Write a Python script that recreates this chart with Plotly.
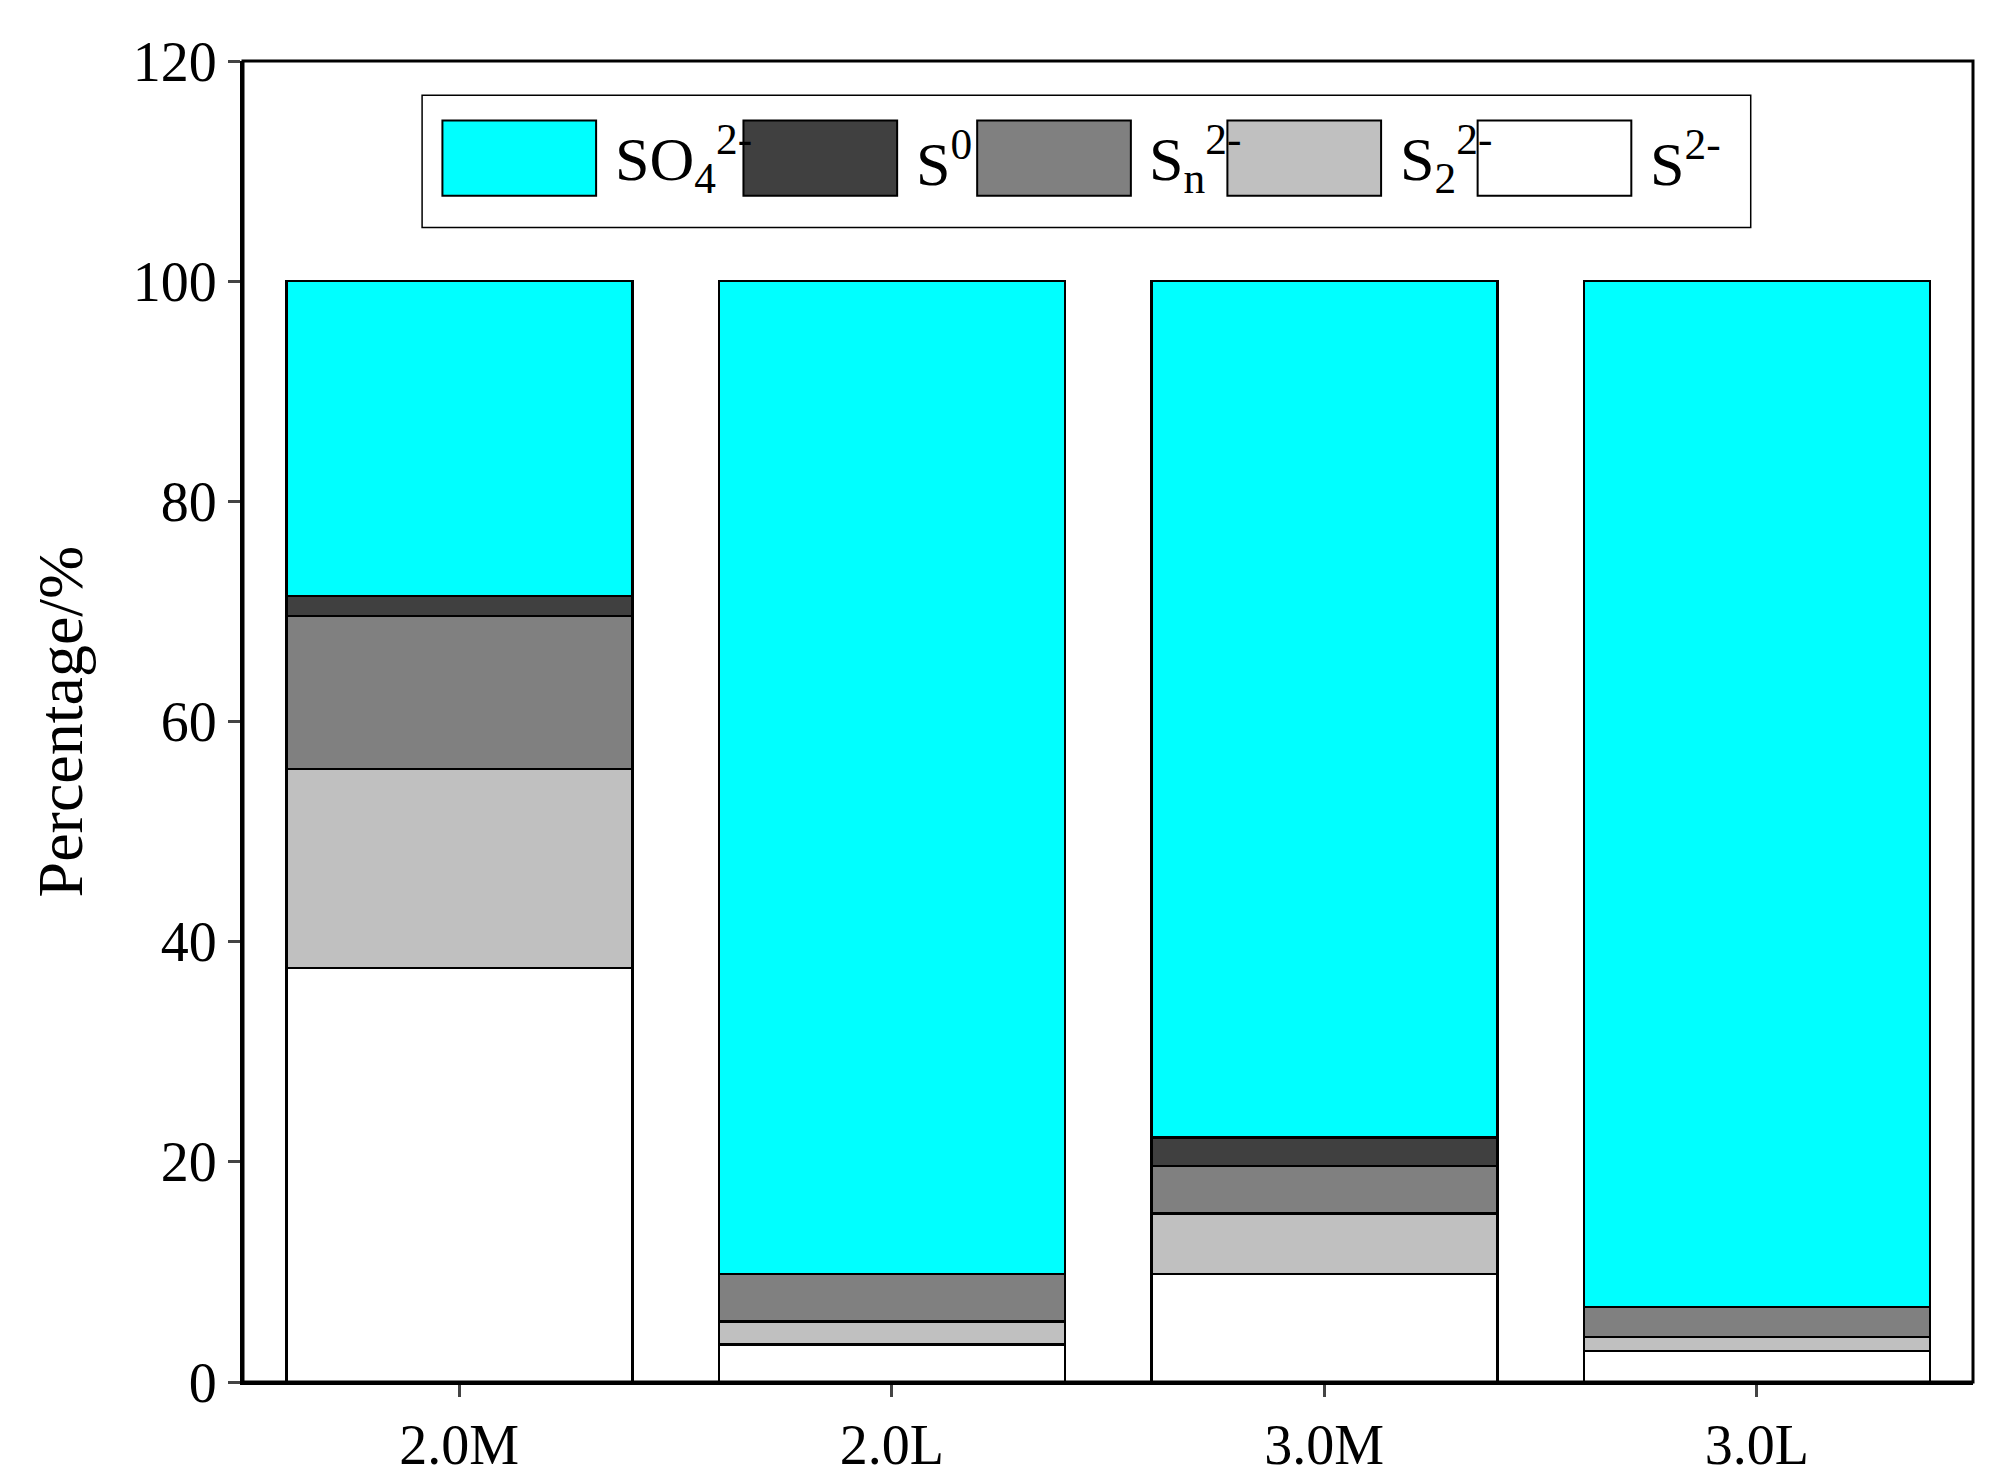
import plotly.graph_objects as go

categories = ["2.0M", "2.0L", "3.0M", "3.0L"]
s2 = [37.6, 3.4, 9.8, 2.8]
s2_2 = [18.1, 2.1, 5.5, 1.3]
sn = [13.9, 4.3, 4.3, 2.7]
s0 = [1.8, 0.0, 2.6, 0.0]
so4 = [28.6, 90.2, 77.8, 93.2]

series = [
    ("S<sup>2-</sup>", s2, "#FFFFFF"),
    ("S<sub>2</sub><sup>2-</sup>", s2_2, "#C0C0C0"),
    ("S<sub>n</sub><sup>2-</sup>", sn, "#808080"),
    ("S<sup>0</sup>", s0, "#404040"),
    ("SO<sub>4</sub><sup>2-</sup>", so4, "#00FFFF"),
]

FONT = "Liberation Serif, Times New Roman, serif"

fig = go.Figure()
for name, vals, color in series:
    fig.add_trace(go.Bar(x=categories, y=vals, name=name, width=0.8,
                         marker=dict(color=color, line=dict(color="black", width=2.5))))

# hand-drawn legend (order as in the original)
legend_items = [series[4], series[3], series[2], series[1], series[0]]
sw_left = [342, 579, 763, 960, 1157]
px = lambda v: (v - 185) / 1362
shapes = [dict(type="rect", xref="paper", yref="paper", x0=px(326), x1=px(1372),
               y0=0.874, y1=0.974, line=dict(color="black", width=1.5), fillcolor="white")]
annotations = []
for (name, _, color), left in zip(legend_items, sw_left):
    shapes.append(dict(type="rect", xref="paper", yref="paper", x0=px(left), x1=px(left + 121),
                       y0=0.898, y1=0.955, fillcolor=color, line=dict(color="black", width=2)))
    annotations.append(dict(xref="paper", yref="paper", x=px(left + 134), y=0.926, xanchor="left",
                            yanchor="middle", text=name, showarrow=False,
                            font=dict(family=FONT, size=62, color="black")))
# plot frame
shapes.append(dict(type="rect", xref="paper", yref="paper", x0=0, x1=1, y0=0, y1=1,
                   line=dict(color="black", width=3)))

fig.update_layout(
    barmode="stack", showlegend=False, width=1992, height=1480,
    paper_bgcolor="white", plot_bgcolor="white",
    margin=dict(l=235, r=27, t=53, b=93),
    font=dict(family=FONT, size=56, color="black"),
    shapes=shapes, annotations=annotations,
)
fig.update_xaxes(range=[-0.5, 3.5], ticks="outside", ticklen=12, tickwidth=3,
                 showline=True, linecolor="black", linewidth=3, showgrid=False)
fig.update_yaxes(range=[0, 120], dtick=20, ticks="outside", ticklen=12, tickwidth=3,
                 showline=True, linecolor="black", linewidth=3, showgrid=False, zeroline=False,
                 title=dict(text="Percentage/%", font=dict(size=64), standoff=30))

fig.write_html("out.html")
